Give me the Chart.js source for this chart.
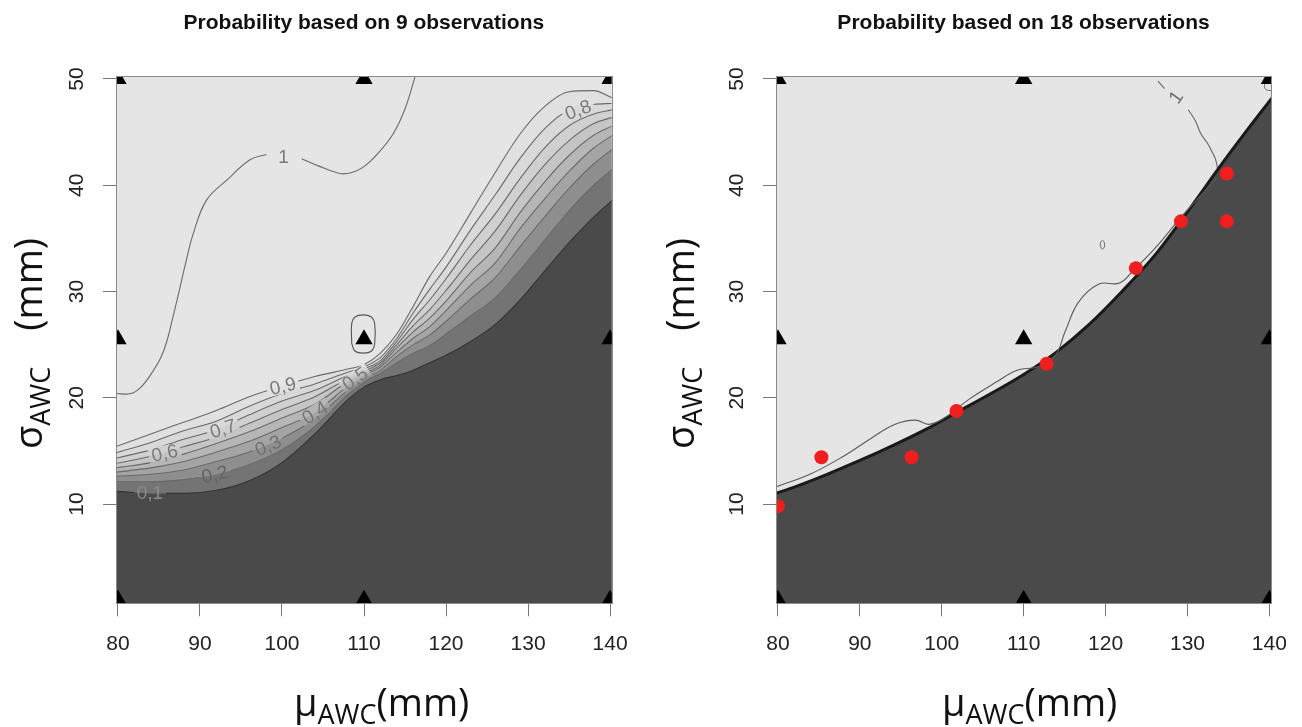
<!DOCTYPE html>
<html>
<head>
<meta charset="utf-8">
<script src="https://cdn.jsdelivr.net/npm/chart.js@4.4.1/dist/chart.umd.min.js"></script>
<style>
  body { margin: 0; background: #fff; }
  #wrap { position: relative; width: 1302px; height: 727px; overflow: hidden; }
  canvas { position: absolute; top: 0; }
  .at { position: absolute; font-family: "Open Sans", sans-serif; font-size: 38px; line-height: 38px; color: #111; white-space: nowrap; }
  .at .s { font-size: 27px; position: relative; top: 8px; }
  .at .gap { margin-left: 36px; }
  .rot { transform-origin: 0 0; transform: rotate(-90deg); }
</style>
</head>
<body>
<div id="wrap">
  <canvas id="left" width="651" height="727" style="left:0"></canvas>
  <canvas id="right" width="651" height="727" style="left:651px"></canvas>
  <div class="at" style="left:294px;top:682px">μ<span class="s">AWC</span>(mm)</div>
  <div class="at rot" style="left:8px;top:449px">σ<span class="s">AWC</span><span class="gap">(mm)</span></div>
  <div class="at" style="left:942px;top:682px">μ<span class="s">AWC</span>(mm)</div>
  <div class="at rot" style="left:660px;top:449px">σ<span class="s">AWC</span><span class="gap">(mm)</span></div>
</div>
<script>
// axes
const xTicks = [80, 90, 100, 110, 120, 130, 140];
const yTicks = [10, 20, 30, 40, 50];

// design points (triangles), same in both panels
const designX = [80, 110, 140, 80, 110, 140, 80, 110, 140];
const designY = [1, 1, 1, 25.5, 25.5, 25.5, 50, 50, 50];

// left panel: probability contours 0.1 ... 0.9 (9 observations)
const contourX = [79.7, 84, 88, 92, 96, 100, 104, 108, 110, 112, 114, 116, 118, 120, 123, 126, 129, 132, 135, 138, 140.3];
const p01 = [11.2, 11.0, 11.0, 11.3, 12.2, 13.9, 16.6, 19.8, 21.0, 21.7, 22.1, 22.6, 23.3, 24.0, 25.3, 26.9, 29.2, 31.9, 34.6, 37.0, 38.6];
const p02 = [12.1, 12.1, 12.3, 12.8, 13.7, 15.1, 17.3, 20.3, 21.5, 22.3, 23.3, 24.2, 24.9, 26.0, 27.7, 29.4, 32.0, 34.8, 37.6, 40.0, 41.5];
const p03 = [12.6, 12.8, 13.2, 14.0, 14.9, 16.2, 18.0, 20.7, 21.8, 22.6, 23.9, 25.0, 25.9, 27.2, 29.3, 31.3, 34.2, 37.0, 39.7, 42.0, 43.4];
const p04 = [13.0, 13.4, 14.0, 14.9, 15.9, 17.2, 18.6, 21.1, 22.1, 22.9, 24.3, 25.6, 26.7, 28.2, 30.6, 32.7, 35.9, 38.7, 41.3, 43.5, 44.7];
const p05 = [13.4, 13.9, 14.7, 15.7, 16.8, 18.1, 19.4, 21.5, 22.3, 23.1, 24.7, 26.2, 27.5, 29.1, 31.8, 34.1, 37.4, 40.3, 42.8, 44.7, 45.6];
const p06 = [13.8, 14.5, 15.4, 16.3, 17.6, 18.9, 20.1, 21.8, 22.5, 23.3, 25.0, 26.8, 28.3, 30.1, 33.0, 35.7, 39.0, 41.9, 44.2, 45.8, 46.4];
const p07 = [14.3, 15.1, 16.1, 17.0, 18.4, 19.7, 20.7, 22.1, 22.7, 23.5, 25.3, 27.4, 29.2, 31.2, 34.4, 37.3, 40.6, 43.5, 45.6, 46.7, 47.1];
const p08 = [14.8, 15.8, 16.9, 17.8, 19.2, 20.4, 21.3, 22.4, 22.9, 23.8, 25.6, 28.0, 30.2, 32.3, 35.8, 39.1, 42.5, 45.3, 47.1, 47.6, 47.7];
const p09 = [15.4, 16.6, 17.7, 18.8, 20.1, 21.1, 22.0, 22.7, 23.1, 24.2, 26.0, 28.6, 31.4, 33.6, 37.4, 41.2, 44.8, 47.4, 48.8, 48.9, 48.2];
// the level-1 contour, broken at its label
const oneAX = [79.7, 81.6, 82.8, 84.1, 85.3, 86.1, 86.7, 87.3, 88.2, 89.2, 90.8, 93.3, 96.1, 98.1];
const oneAY = [20.4, 20.4, 21.0, 22.3, 23.9, 25.7, 27.6, 29.5, 32.5, 35.5, 38.6, 40.5, 42.4, 42.9];
const oneBX = [102.4, 104.5, 107.1, 108.5, 109.9, 111.7, 113.6, 115.0, 116.3];
const oneBY = [42.5, 41.8, 41.1, 41.2, 41.7, 43.0, 44.9, 47.2, 50.4];
// small closed contour round the centre design point
const loopX = [108.5, 108.5, 108.9, 109.9, 110.9, 111.3, 111.3, 110.9, 109.9, 108.9, 108.5];
const loopY = [25.1, 27.0, 27.6, 27.8, 27.6, 27.0, 25.1, 24.4, 24.2, 24.4, 25.1];
// contour labels, left panel
const leftLabelText = ['0,1', '0,2', '0,3', '0,4', '0,5', '0,6', '0,7', '0,8', '0,9', '1'];
const leftLabelX = [83.9, 91.8, 98.3, 104.0, 108.9, 85.7, 92.8, 136.1, 100.1, 100.2];
const leftLabelY = [11.1, 12.8, 15.5, 18.6, 21.8, 14.8, 17.1, 47.1, 21.1, 42.7];

// right panel (18 observations)
const edgeX = [79.7, 82, 86, 90, 94, 98, 102, 106, 110, 114, 118, 122, 126, 130, 134, 137, 140.3];
const edgeY = [11.0, 11.6, 12.8, 14.1, 15.5, 17.0, 18.7, 20.4, 22.2, 24.3, 26.9, 30.0, 33.4, 37.5, 41.8, 44.9, 48.2];
const upperX = [79.7, 83.9, 88.0, 91.4, 94.3, 96.8, 98.4, 100.1, 103.4, 106.7, 109.2, 111.7, 113.8, 115.1, 116.7, 119.2, 121.7, 123.4, 126.3, 129.2, 131.7, 133.6];
const upperY = [11.6, 12.8, 14.5, 16.2, 17.5, 17.9, 17.5, 18.0, 19.9, 21.5, 22.6, 22.9, 23.9, 26.3, 29.0, 30.7, 30.8, 32.0, 34.3, 37.0, 39.1, 40.7];
const oneRX = [130.1, 131.0, 131.6, 132.4, 132.9, 133.4, 133.7];
const oneRY = [47.1, 46.0, 44.9, 44.0, 43.3, 42.5, 41.5];
const dashX = [126.4, 127.2];
const dashY = [49.8, 49.1];
const smallX = [119.35, 119.45, 119.65, 119.85, 119.85, 119.65, 119.45, 119.35];
const smallY = [34.5, 34.1, 34.0, 34.2, 34.6, 34.8, 34.7, 34.5];
const cornerX = [140.3, 139.7, 139.4, 139.6, 140.3];
const cornerY = [49.9, 49.8, 49.4, 49.0, 48.9];
const obsX = [80, 85.3, 96.3, 101.8, 112.8, 123.7, 129.2, 134.8, 134.8];
const obsY = [9.8, 14.4, 14.4, 18.75, 23.2, 32.2, 36.6, 41.1, 36.6];
const rightLabelText = ['1'];
const rightLabelX = [128.6];
const rightLabelY = [48.3];

// styles
const bandColors = ['#4a4a4a', '#747474', '#8e8e8e', '#a4a4a4', '#b6b6b6', '#c5c5c5', '#d0d0d0', '#d9d9d9', '#e0e0e0'];
const lightColor = '#e5e5e5';
const leftLabelAngle = [0, -13, -23, -32, -35, -12, -17, -20, -14, 0];
const leftLabelColor = ['#8a8a8a', '#646464', '#707070', '#747474', '#787878', '#7a7a7a', '#7a7a7a', '#7a7a7a', '#7a7a7a', '#7a7a7a'];

const pts = (xs, ys) => xs.map((x, i) => ({ x: x, y: ys[i] }));

function fillSet(xs, ys, color, order) {
  return { data: pts(xs, ys), fill: 'start', backgroundColor: color, borderWidth: 0, pointRadius: 0,
           cubicInterpolationMode: 'monotone', order: order, clip: 0 };
}
function lineSet(xs, ys, color, width, smooth) {
  return { data: pts(xs, ys), fill: false, borderColor: color, borderWidth: width, pointRadius: 0,
           cubicInterpolationMode: smooth ? 'monotone' : 'default', tension: smooth ? 0 : 0.4,
           order: 5, clip: 0, cutAtLabels: true };
}
function pointSet(xs, ys, style, radius, color, order) {
  return { data: pts(xs, ys), showLine: false, pointStyle: style, pointRadius: radius,
           pointBackgroundColor: color, pointBorderWidth: 0, order: order, clip: 0 };
}

const areaBg = {
  id: 'areaBg',
  beforeDatasetsDraw(chart) {
    const a = chart.chartArea, ctx = chart.ctx;
    ctx.save();
    ctx.fillStyle = lightColor;
    ctx.fillRect(a.left, a.top, a.right - a.left, a.bottom - a.top);
    ctx.restore();
  }
};
const frame = {
  id: 'frame',
  afterDatasetsDraw(chart) {
    const a = chart.chartArea, ctx = chart.ctx;
    ctx.save();
    ctx.strokeStyle = '#8a8a8a';
    ctx.lineWidth = 1;
    ctx.strokeRect(Math.round(a.left) + 0.5, Math.round(a.top) + 0.5, Math.round(a.right - a.left), Math.round(a.bottom - a.top));
    ctx.restore();
  }
};

// contour labels: lines are cut where a label sits, as R does
const labelFont = '19px "Liberation Sans", Arial, sans-serif';
function contourLabels(texts, xs, ys, angles, colors) {
  function boxes(chart) {
    const ctx = chart.ctx, sx = chart.scales.x, sy = chart.scales.y;
    ctx.save();
    ctx.font = labelFont;
    const out = texts.map((t, i) => ({
      t: t, px: sx.getPixelForValue(xs[i]), py: sy.getPixelForValue(ys[i]),
      a: angles[i] * Math.PI / 180, w: ctx.measureText(t).width + 6, h: 15, c: colors[i]
    }));
    ctx.restore();
    return out;
  }
  return {
    id: 'contourLabels',
    beforeDatasetDraw(chart, args) {
      if (!chart.data.datasets[args.index].cutAtLabels) return;
      const ctx = chart.ctx, a = chart.chartArea;
      ctx.save();
      ctx.beginPath();
      ctx.rect(a.left - 5, a.top - 5, a.right - a.left + 10, a.bottom - a.top + 10);
      boxes(chart).forEach(b => {
        const c = Math.cos(b.a), s = Math.sin(b.a);
        const corners = [[-b.w / 2, -b.h / 2], [b.w / 2, -b.h / 2], [b.w / 2, b.h / 2], [-b.w / 2, b.h / 2]];
        corners.forEach((p, k) => {
          const X = b.px + p[0] * c - p[1] * s, Y = b.py + p[0] * s + p[1] * c;
          if (k === 0) ctx.moveTo(X, Y); else ctx.lineTo(X, Y);
        });
        ctx.closePath();
      });
      ctx.clip('evenodd');
    },
    afterDatasetDraw(chart, args) {
      if (!chart.data.datasets[args.index].cutAtLabels) return;
      chart.ctx.restore();
    },
    afterDatasetsDraw(chart) {
      const { ctx, chartArea: a } = chart;
      ctx.save();
      ctx.beginPath();
      ctx.rect(a.left, a.top, a.right - a.left, a.bottom - a.top);
      ctx.clip();
      ctx.font = labelFont;
      ctx.textAlign = 'center';
      ctx.textBaseline = 'middle';
      boxes(chart).forEach(b => {
        ctx.save();
        ctx.translate(b.px, b.py);
        ctx.rotate(b.a);
        ctx.fillStyle = b.c;
        ctx.fillText(b.t, 0, 1);
        ctx.restore();
      });
      ctx.restore();
    }
  };
}

const tickFont = { family: '"Liberation Sans", Arial, sans-serif', size: 21 };

function makeChart(id, title, yAxisWidth, padRight, datasets, labelPlugin) {
  return new Chart(document.getElementById(id), {
    type: 'line',
    data: { datasets: datasets },
    options: {
      responsive: false,
      animation: false,
      events: [],
      layout: { padding: { left: 0, right: padRight, top: 0, bottom: 0 } },
      elements: { point: { radius: 0 } },
      plugins: {
        legend: { display: false },
        tooltip: { enabled: false },
        title: {
          display: true, text: title, fullSize: false, color: '#111',
          font: { family: '"Liberation Sans", Arial, sans-serif', size: 21, weight: 'bold' },
          padding: { top: 10.4, bottom: 40.4 }
        }
      },
      scales: {
        x: {
          type: 'linear', min: 79.76, max: 140.2,
          afterFit: s => { s.height = 123.7; },
          afterBuildTicks: s => { s.ticks = xTicks.map(v => ({ value: v })); },
          grid: { display: true, drawOnChartArea: false, drawTicks: true, tickLength: 13, color: '#777' },
          border: { display: false },
          ticks: { font: tickFont, color: '#222', padding: 15, maxRotation: 0, autoSkip: false }
        },
        y: {
          type: 'linear', min: 0.66, max: 50.28,
          afterFit: s => { s.width = yAxisWidth; },
          afterBuildTicks: s => { s.ticks = yTicks.map(v => ({ value: v })); },
          grid: { display: true, drawOnChartArea: false, drawTicks: true, tickLength: 13, color: '#777' },
          border: { display: false },
          ticks: { font: tickFont, color: '#222', padding: 14, minRotation: 90, maxRotation: 90, crossAlign: 'center', autoSkip: false }
        }
      }
    },
    plugins: [areaBg, labelPlugin, frame]
  });
}

// left panel datasets
const levelSeries = [p01, p02, p03, p04, p05, p06, p07, p08, p09];
const leftSets = [];
levelSeries.forEach((ys, i) => leftSets.push(fillSet(contourX, ys, bandColors[i], 11 + i)));
levelSeries.forEach((ys, i) => leftSets.push(lineSet(contourX, ys, i === 0 ? '#333333' : '#6a6a6a', 1.1, true)));
leftSets.push(lineSet(oneAX, oneAY, '#6a6a6a', 1.1, false));
leftSets.push(lineSet(oneBX, oneBY, '#6a6a6a', 1.1, false));
leftSets.push(lineSet(loopX, loopY, '#555', 1.1, false));
leftSets.push(pointSet(designX, designY, 'triangle', 10, '#000', 1));

makeChart('left', 'Probability based on 9 observations', 116, 39.3, leftSets,
  contourLabels(leftLabelText, leftLabelX, leftLabelY, leftLabelAngle, leftLabelColor));

// right panel datasets
const rightSets = [
  fillSet(edgeX, edgeY, bandColors[0], 11),
  lineSet(upperX, upperY, '#5a5a5a', 1.1, false),
  lineSet(edgeX, edgeY, '#1a1a1a', 3, true),
  lineSet(oneRX, oneRY, '#666', 1.1, false),
  lineSet(dashX, dashY, '#666', 1.1, false),
  lineSet(smallX, smallY, '#666', 1, false),
  lineSet(cornerX, cornerY, '#666', 1, false),
  pointSet(designX, designY, 'triangle', 10, '#000', 1),
  pointSet(obsX, obsY, 'circle', 7, '#f01e1e', 0)
];
makeChart('right', 'Probability based on 18 observations', 125, 30.3, rightSets,
  contourLabels(rightLabelText, rightLabelX, rightLabelY, [-55], ['#6a6a6a']));
</script>
</body>
</html>
